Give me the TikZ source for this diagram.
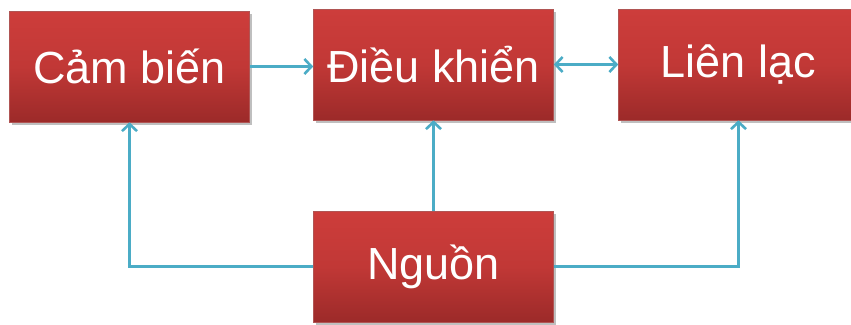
\documentclass[tikz,border=0pt]{standalone}
\usepackage{fontspec}
\setmainfont{Liberation Sans}
\usetikzlibrary{arrows.meta,shadows}
\definecolor{boxtop}{HTML}{CD3D3B}
\definecolor{boxmid}{HTML}{C13836}
\definecolor{boxbot}{HTML}{9C2A29}
\definecolor{link}{HTML}{4BACC6}
\tikzset{
  block/.style={rectangle, minimum width=240pt, minimum height=111pt,
    top color=boxtop, bottom color=boxbot, middle color=boxmid,
    draw=boxbot!80!white, line width=0.6pt,
    text=white, font=\fontsize{45}{50}\selectfont,
    drop shadow={shadow xshift=2pt, shadow yshift=-3pt, opacity=0.25, fill=black}},
  tip/.tip={Straight Barb[length=7pt,width=15pt,line width=2.6pt]},
  link/.style={draw=link, line width=3pt, -tip},
  biglink/.style={draw=link, line width=3pt, tip-tip}
}
\begin{document}
\begin{tikzpicture}[x=1pt,y=-1pt]
  \useasboundingbox[fill=white] (0,0) rectangle (851,324);
  % sensor, controller, communication and power blocks
  \node[block] (sensor) at (129.5,66.5) {Cảm biến};
  \node[block] (ctrl)   at (433.5,64.5) {Điều khiển};
  \node[block] (comm)   at (738.5,64.5) {Liên lạc};
  \node[block] (power)  at (433.5,266.5) {Nguồn};
  % data flow
  \draw[link] (sensor.east) -- (ctrl.west |- sensor.east);
  \draw[biglink] (ctrl.east) -- (comm.west);
  % power distribution
  \draw[link] (power.west) -| (sensor.south);
  \draw[link] (power.north) -- (ctrl.south);
  \draw[link] (power.east) -| (comm.south);
\end{tikzpicture}
\end{document}
